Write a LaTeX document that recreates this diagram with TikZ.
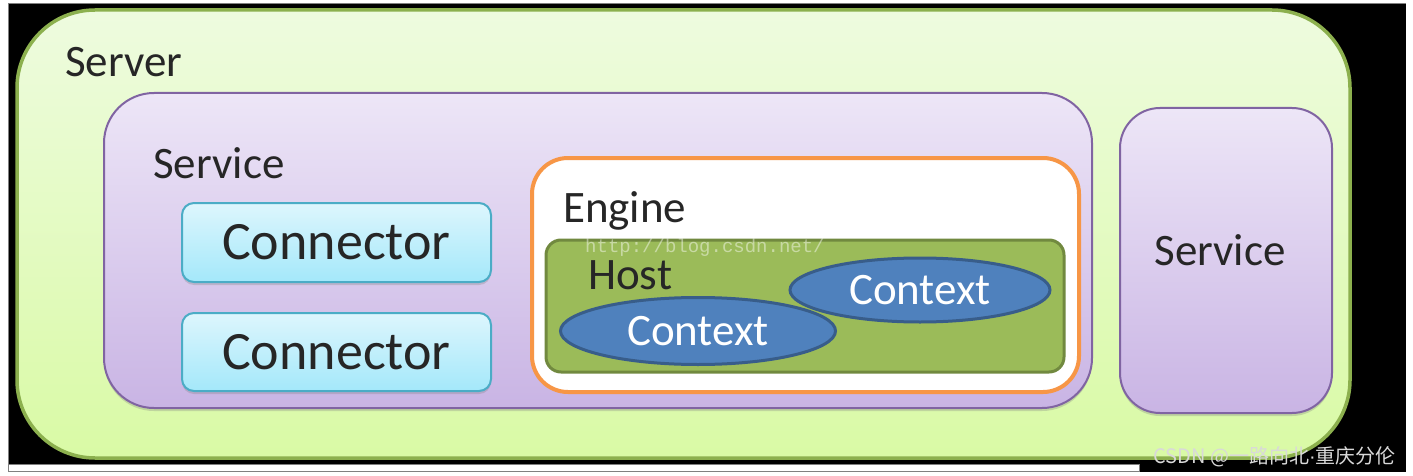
\documentclass[tikz,border=0pt]{standalone}
\usepackage{fontspec}
\setmainfont{Carlito}
\newfontfamily\cjkfont{Noto Sans CJK SC}
\newfontfamily\dotfont{Liberation Sans}
\setmonofont{Liberation Mono}
\usetikzlibrary{shapes.geometric,shadows}

\definecolor{serverline}{HTML}{8CB04E}
\definecolor{servertop}{HTML}{EEFBDF}
\definecolor{serverbot}{HTML}{D9FAA5}
\definecolor{serviceline}{HTML}{8064A2}
\definecolor{servicetop}{HTML}{EDE6F7}
\definecolor{servicebot}{HTML}{C9B4E4}
\definecolor{connline}{HTML}{4BACC6}
\definecolor{conntop}{HTML}{DDF6FD}
\definecolor{connbot}{HTML}{A4E8FA}
\definecolor{engineline}{HTML}{F79646}
\definecolor{hostfill}{HTML}{9BBB59}
\definecolor{hostline}{HTML}{71893F}
\definecolor{ctxfill}{HTML}{4F81BD}
\definecolor{ctxline}{HTML}{385D8A}

\tikzset{
  lbl/.style={anchor=base west, inner sep=0pt, font=\fontsize{45}{54}\selectfont, text=black!85},
  softshadow/.style={drop shadow={shadow xshift=0pt, shadow yshift=-3pt, opacity=.3}},
  servicebox/.style={softshadow, draw=serviceline, line width=2pt, top color=servicetop, bottom color=servicebot},
  connbox/.style={softshadow, draw=connline, line width=2pt, top color=conntop, bottom color=connbot, rounded corners=12pt},
  ctx/.style={ellipse, draw=ctxline, line width=3pt, fill=ctxfill, text=white, font=\fontsize{45}{54}\selectfont, inner sep=0pt}
}

\begin{document}
\begin{tikzpicture}[x=1pt, y=-1pt]
  \useasboundingbox (0,0) rectangle (1413,476);

  % screenshot frame
  \fill[black] (8,4) rectangle (1406,472);
  \draw[gray, line width=1pt] (8,472) -- (8,4) -- (1406,4);
  \draw[gray, fill=white, line width=1pt] (8,464) rectangle (1139,471);

  % server
  \draw[draw=serverline, line width=3.5pt, top color=servertop, bottom color=serverbot, rounded corners=78pt] (17,10) rectangle (1350,458);
  \node[lbl] (server) at (65,77) {Server};

  % left service
  \path[servicebox, rounded corners=50pt] (104,93) rectangle (1092,408);
  \node[lbl] (service1) at (153,178) {Service};

  % connectors
  \path[connbox] (182,203) rectangle (491,282);
  \path[connbox] (182,313) rectangle (491,391);
  \node[font=\fontsize{54}{64}\selectfont, text=black!85] (conn1) at (336.5,242.5) {Connector};
  \node[font=\fontsize{54}{64}\selectfont, text=black!85] (conn2) at (336.5,352) {Connector};

  % engine
  \draw[draw=engineline, line width=4pt, fill=white, rounded corners=36pt] (532,158) rectangle (1079,392);
  \node[lbl] (engine) at (563,222) {Engine};

  % host
  \draw[draw=hostline, line width=3pt, fill=hostfill, rounded corners=15pt] (546,240) rectangle (1064,372);
  \node[lbl] (host) at (588,289) {Host};
  \node[anchor=west, inner sep=0pt, font=\ttfamily\fontsize{19}{22}\selectfont, text=white, opacity=.45] (wm) at (585,248) {http://blog.csdn.net/};

  % contexts
  \node[ctx, minimum width=260pt, minimum height=64pt] (ctx1) at (920,290) {Context};
  \node[ctx, minimum width=275pt, minimum height=67pt] (ctx2) at (698,331) {Context};

  % right service
  \path[servicebox, rounded corners=40pt] (1120,108) rectangle (1332,413);
  \node[font=\fontsize{45}{54}\selectfont, text=black!85] (service2) at (1220,250) {Service};

  % watermark
  \node[anchor=east, inner sep=0pt, font=\cjkfont\fontsize{20}{24}\selectfont, text=gray!30] (csdn) at (1396,457) {CSDN @一路向北{\dotfont ·}重庆分伦};
\end{tikzpicture}
\end{document}
